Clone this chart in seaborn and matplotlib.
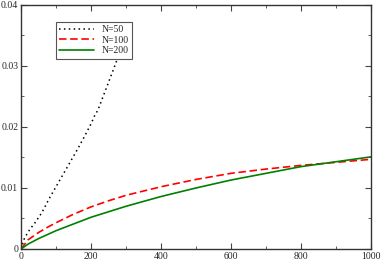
import numpy as np
import pandas as pd
import seaborn as sns
import matplotlib
matplotlib.use('Agg')
import matplotlib.pyplot as plt
from matplotlib.ticker import MultipleLocator, FuncFormatter

# values
x_50 = [0, 10, 25, 40, 60, 80, 100, 120, 140, 160, 180, 200, 210, 220, 240, 260, 275, 290]
y_50 = [0, 0.0018, 0.0032, 0.0043, 0.0060, 0.0082, 0.0102, 0.0122, 0.0142, 0.0162,
        0.0183, 0.0205, 0.0218, 0.0228, 0.0258, 0.0288, 0.0311, 0.0334]

x_100 = [0, 20, 50, 77, 100, 150, 200, 250, 300, 350, 400, 450, 500, 600, 700, 800, 900, 1000]
y_100 = [0, 0.0015, 0.0027, 0.0036, 0.0043, 0.0057, 0.0069, 0.0079, 0.0088, 0.0095,
         0.0102, 0.0108, 0.0114, 0.0124, 0.0131, 0.0137, 0.0142, 0.0147]

x_200 = [0, 20, 50, 100, 150, 200, 250, 300, 350, 400, 450, 500, 600, 700, 800, 900, 1000]
y_200 = [0, 0.0008, 0.0017, 0.0030, 0.0041, 0.0052, 0.0061, 0.0070, 0.0078, 0.0086,
         0.0093, 0.0100, 0.0113, 0.0124, 0.0135, 0.0143, 0.0151]

labels = ['N=50', 'N=100', 'N=200']

df = pd.concat([
    pd.DataFrame({'x': x_50, 'y': y_50, 'N': labels[0]}),
    pd.DataFrame({'x': x_100, 'y': y_100, 'N': labels[1]}),
    pd.DataFrame({'x': x_200, 'y': y_200, 'N': labels[2]}),
])

sns.set_style('ticks')
plt.rcParams['font.family'] = ['Liberation Serif', 'DejaVu Serif']
plt.rcParams['xtick.direction'] = 'in'
plt.rcParams['ytick.direction'] = 'in'

fig = plt.figure(figsize=(3.82, 2.61), dpi=100)
ax = fig.add_axes([0.055, 0.046, 0.916, 0.935])

styles = {'N=50': ((0, (1, 2.2)), 'black', 1.1),
          'N=100': ((0, (4.5, 2.2)), 'red', 1.2),
          'N=200': ('-', 'green', 1.2)}
for lab in labels:
    ls, c, lw = styles[lab]
    sns.lineplot(data=df[df['N'] == lab], x='x', y='y', ax=ax, color=c,
                 linestyle=ls, linewidth=lw, label=lab, estimator=None, sort=False)

ax.set_xlim(0, 1000)
ax.set_ylim(0, 0.04)
ax.set_xlabel('')
ax.set_ylabel('')
ax.xaxis.set_major_locator(MultipleLocator(200))
ax.xaxis.set_minor_locator(MultipleLocator(100))
ax.yaxis.set_major_locator(MultipleLocator(0.01))
ax.yaxis.set_minor_locator(MultipleLocator(0.005))
ax.yaxis.set_major_formatter(FuncFormatter(lambda v, p: '0' if abs(v) < 1e-9 else ('%.2f' % v)))
ax.tick_params(which='both', top=True, right=True, labelsize=7, pad=2, color='#444444')
ax.tick_params(which='major', length=4)
ax.tick_params(which='minor', length=2)
for s in ax.spines.values():
    s.set_color('#333333')
    s.set_linewidth(1.0)

leg = ax.legend(loc='upper left', bbox_to_anchor=(0.1, 0.93), borderaxespad=0,
                fontsize=7, frameon=True, fancybox=False, handlelength=3.6,
                labelspacing=0.15, borderpad=0.35, handletextpad=0.7)
leg.get_frame().set_edgecolor('#555555')
leg.get_frame().set_linewidth(0.8)
leg.get_frame().set_alpha(1)
leg.set_zorder(10)

fig.savefig('out.png', dpi=100)
